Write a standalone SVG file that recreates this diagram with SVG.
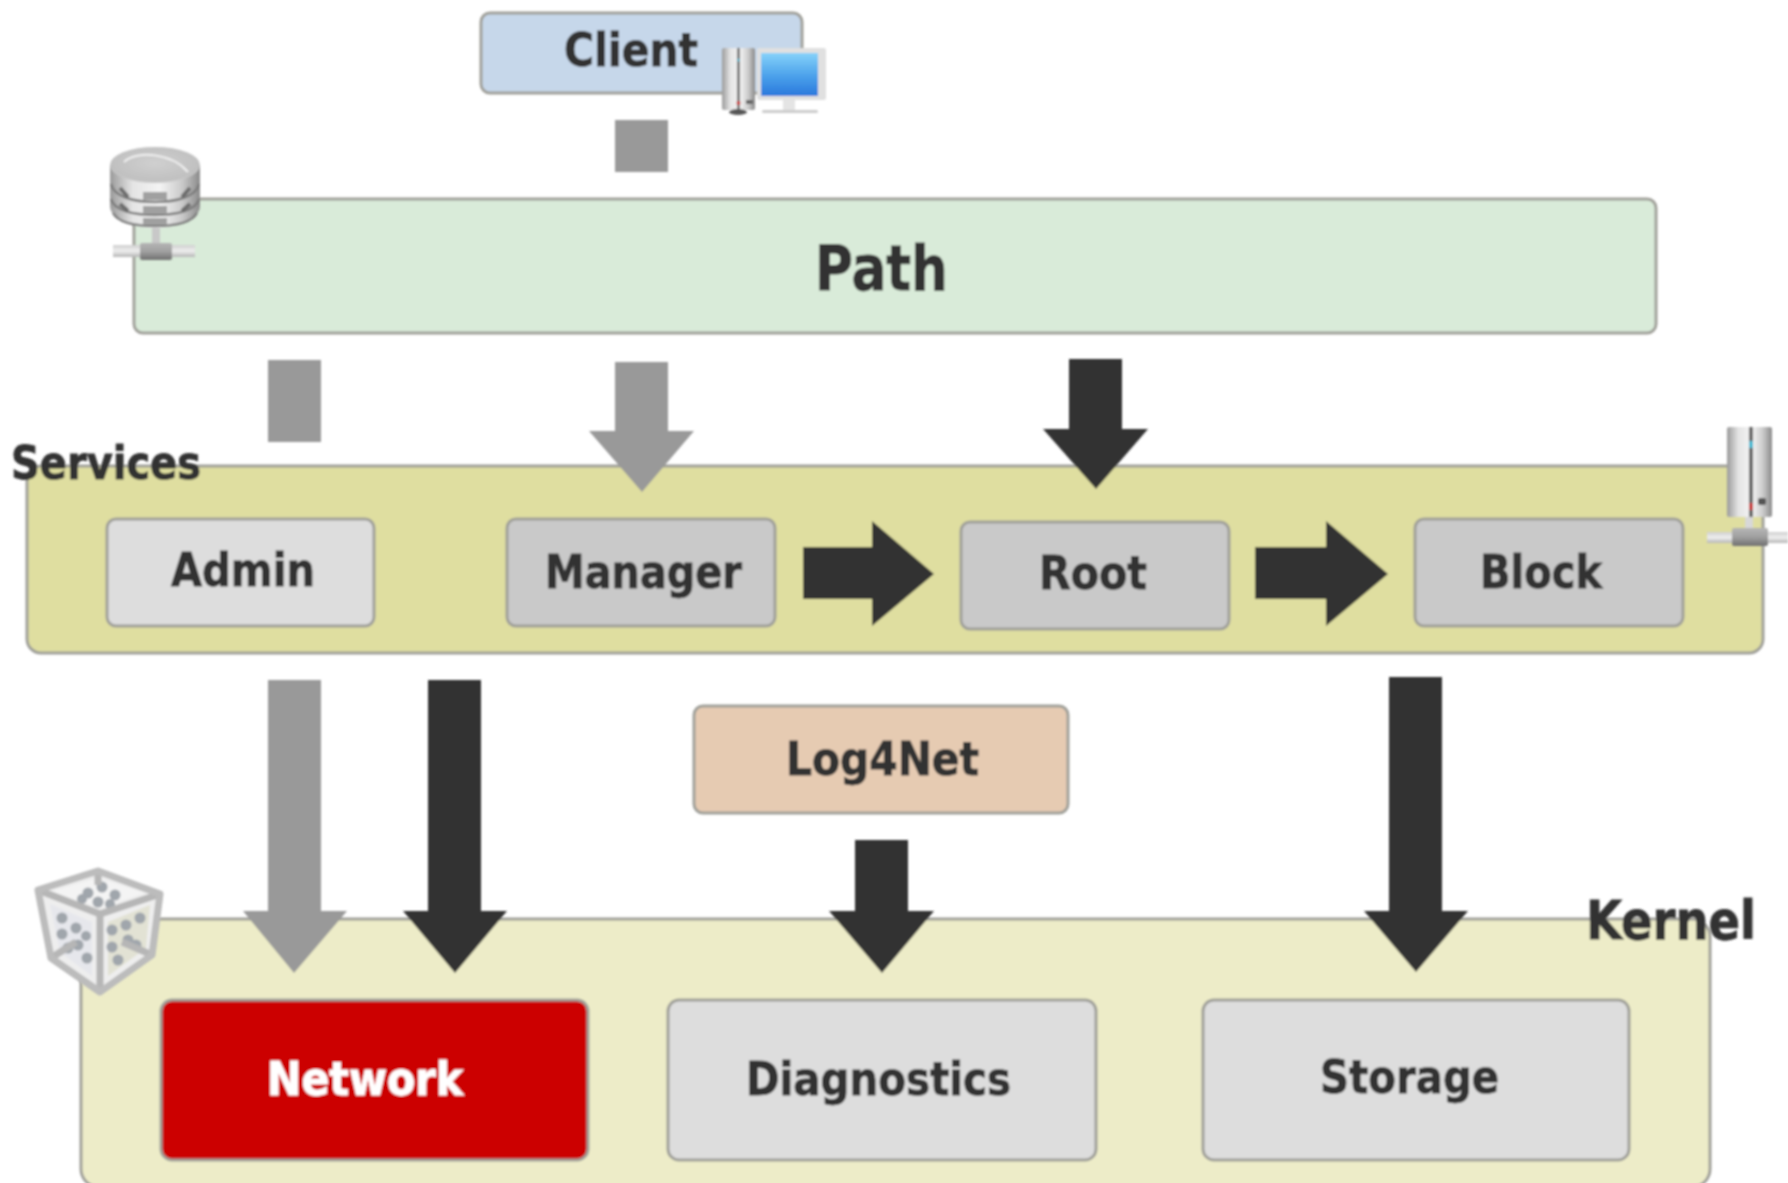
<svg xmlns="http://www.w3.org/2000/svg" width="1788" height="1183" viewBox="0 0 1788 1183">
<style>
.box{stroke:#a0a09a;stroke-width:3}
.t{font-family:"DejaVu Sans","Noto Sans",sans-serif;font-stretch:condensed;font-weight:700;fill:#333;stroke:#333;stroke-width:.8}
.g{fill:#999}.d{fill:#333}
</style>
<defs>
<filter id="soft" x="-2%" y="-2%" width="104%" height="104%"><feGaussianBlur stdDeviation="0.8"/></filter>
<filter id="softer" x="-10%" y="-10%" width="120%" height="120%"><feGaussianBlur stdDeviation="1"/></filter>
<linearGradient id="metal" x1="0" y1="0" x2="1" y2="0"><stop offset="0" stop-color="#9a9a9a"/><stop offset=".25" stop-color="#e4e4e4"/><stop offset=".55" stop-color="#f4f4f4"/><stop offset=".8" stop-color="#cacaca"/><stop offset="1" stop-color="#8a8a8a"/></linearGradient>
<linearGradient id="pipe" x1="0" y1="0" x2="0" y2="1"><stop offset="0" stop-color="#d0d0d0"/><stop offset=".5" stop-color="#eeeeee"/><stop offset="1" stop-color="#b5b5b5"/></linearGradient>
<linearGradient id="coupler" x1="0" y1="0" x2="0" y2="1"><stop offset="0" stop-color="#b5b5b5"/><stop offset=".5" stop-color="#a0a0a0"/><stop offset="1" stop-color="#6f6f6f"/></linearGradient>
<linearGradient id="screen" x1="0" y1="0" x2="0" y2="1"><stop offset="0" stop-color="#86d2fa"/><stop offset=".55" stop-color="#4aa0ea"/><stop offset="1" stop-color="#2a78dc"/></linearGradient>
<radialGradient id="disk" cx=".5" cy=".45" r=".7"><stop offset="0" stop-color="#d0d0d0"/><stop offset=".7" stop-color="#c0c0c0"/><stop offset="1" stop-color="#ececec"/></radialGradient>
</defs>
<g filter="url(#soft)">
<g id="services-panel"><rect class="box" x="27" y="466" width="1736" height="187" rx="14" fill="#dfdea0"/><text class="t" x="11" y="479" font-size="47" textLength="190" lengthAdjust="spacingAndGlyphs">Services</text></g>
<g id="kernel-panel"><rect class="box" x="81" y="919" width="1629" height="268" rx="18" fill="#edecc8"/><text class="t" x="1586" y="939" font-size="54" textLength="170" lengthAdjust="spacingAndGlyphs">Kernel</text></g>
<g id="client"><rect class="box" x="481" y="13" width="321" height="80" rx="9" fill="#c6d7ea"/><text class="t" x="564" y="66" font-size="47" textLength="134" lengthAdjust="spacingAndGlyphs">Client</text></g>
<g id="path"><rect class="box" x="134" y="199" width="1522" height="134" rx="9" fill="#d9ebd9"/><text class="t" x="815" y="290" font-size="62" textLength="133" lengthAdjust="spacingAndGlyphs">Path</text></g>
<g id="admin"><rect class="box" x="107" y="519" width="267" height="107" rx="9" fill="#dddddd"/><text class="t" x="171" y="586" font-size="46" textLength="144" lengthAdjust="spacingAndGlyphs">Admin</text></g>
<g id="manager"><rect class="box" x="507" y="519" width="268" height="107" rx="9" fill="#c9c9c9"/><text class="t" x="545" y="588" font-size="46" textLength="197" lengthAdjust="spacingAndGlyphs">Manager</text></g>
<g id="root"><rect class="box" x="961" y="522" width="268" height="107" rx="9" fill="#c9c9c9"/><text class="t" x="1039" y="589" font-size="46" textLength="108" lengthAdjust="spacingAndGlyphs">Root</text></g>
<g id="block"><rect class="box" x="1415" y="519" width="268" height="107" rx="9" fill="#c9c9c9"/><text class="t" x="1480" y="588" font-size="46" textLength="122" lengthAdjust="spacingAndGlyphs">Block</text></g>
<g id="log4net"><rect class="box" x="694" y="706" width="374" height="107" rx="9" fill="#e6cbb2"/><text class="t" x="786" y="775" font-size="46" textLength="193" lengthAdjust="spacingAndGlyphs">Log4Net</text></g>
<g id="network"><rect class="box" x="161" y="1000" width="427" height="160" rx="11" fill="#cc0000"/><text class="t" style="fill:#fff;stroke:#fff" x="267" y="1095" font-size="46" textLength="196" lengthAdjust="spacingAndGlyphs">Network</text></g>
<g id="diagnostics"><rect class="box" x="668" y="1000" width="428" height="160" rx="11" fill="#dddddd"/><text class="t" x="746" y="1095" font-size="46" textLength="265" lengthAdjust="spacingAndGlyphs">Diagnostics</text></g>
<g id="storage"><rect class="box" x="1203" y="1000" width="426" height="160" rx="11" fill="#dddddd"/><text class="t" x="1320" y="1093" font-size="46" textLength="179" lengthAdjust="spacingAndGlyphs">Storage</text></g>
<g id="connectors">
<rect class="g" x="615" y="120" width="53" height="52"/>
<rect class="g" x="268" y="360" width="53" height="82"/>
<polygon class="g" points="615,362 668,362 668,431 694,431 642,492 589,431 615,431"/>
<polygon class="d" points="1069,359 1122,359 1122,429 1148,429 1096,489 1043,429 1069,429"/>
<polygon class="d" points="803,547 872,547 872,521 934,574 872,626 872,599 803,599"/>
<polygon class="d" points="1255,547 1326,547 1326,521 1388,574 1326,626 1326,599 1255,599"/>
<polygon class="g" points="268,680 321,680 321,911 347,911 294,973 243,911 268,911"/>
<polygon class="d" points="428,680 481,680 481,911 507,911 455,973 403,911 428,911"/>
<polygon class="d" points="855,840 908,840 908,911 934,911 882,973 829,911 855,911"/>
<polygon class="d" points="1389,677 1442,677 1442,911 1468,911 1416,972 1364,911 1389,911"/>
</g>
</g>
<g id="icon-client" filter="url(#softer)">
<rect x="722" y="48" width="33" height="62" rx="2" fill="url(#metal)"/>
<rect x="737" y="48" width="3" height="62" fill="#777"/>
<circle cx="738.500" cy="60" r="1.500" fill="#4cb8d0"/><circle cx="738.500" cy="103" r="2" fill="#c83030"/>
<rect x="746" y="100" width="7" height="4" fill="#666"/>
<ellipse cx="738" cy="112" rx="9" ry="3" fill="#555"/>
<rect x="757" y="48" width="69" height="52" rx="2" fill="#e0e0e0"/>
<rect x="761" y="53" width="57" height="43" fill="url(#screen)"/>
<rect x="783" y="100" width="12" height="10" fill="#e4e4e4"/>
<rect x="762" y="110" width="56" height="3" rx="1.500" fill="#cccccc"/>
</g>
<g id="icon-database" filter="url(#softer)">
<rect x="152" y="226" width="8" height="20" fill="#c8c8c8"/>
<rect x="113" y="245" width="82" height="12" fill="url(#pipe)"/>
<rect x="140" y="243" width="32" height="17" rx="2" fill="url(#coupler)"/>
<path d="M110 165 V206 C110 218 130 228 155 228 C180 228 200 218 200 206 V165 Z" fill="url(#metal)"/>
<path d="M111 184 C114 196 132 202 155 202 C178 202 196 196 199 184 M111 199 C114 210 132 215 155 215 C178 215 196 210 199 199 M113 213 C118 222 134 226 155 226 C176 226 192 222 197 213" fill="none" stroke="#7c7c7c" stroke-width="2.500"/>
<rect x="143" y="192" width="24" height="8" fill="#a0a0a0"/><rect x="143" y="206" width="24" height="8" fill="#a0a0a0"/><rect x="143" y="218" width="24" height="7" fill="#a0a0a0"/>
<path d="M120 188 L128 197 M190 188 L182 197 M120 204 L128 211 M190 204 L182 211" stroke="#6c6c6c" stroke-width="4"/>
<ellipse cx="155" cy="165" rx="45" ry="18" fill="url(#disk)"/>
<path d="M124 162 C137 150 172 153 188 172" fill="none" stroke="#f0f0f0" stroke-width="2"/>
</g>
<g id="icon-server" filter="url(#softer)">
<rect x="1745" y="515" width="8" height="15" fill="#d8d8d8"/>
<rect x="1707" y="532" width="81" height="11" fill="url(#pipe)"/>
<rect x="1732" y="528" width="36" height="18" rx="2" fill="url(#coupler)"/>
<rect x="1727" y="427" width="45" height="90" rx="2" fill="url(#metal)"/>
<rect x="1749" y="427" width="4" height="90" fill="#666"/>
<rect x="1749" y="441" width="4" height="7" fill="#3cb8d0"/><rect x="1749" y="503" width="4" height="7" fill="#c83030"/>
<rect x="1758" y="498" width="8" height="7" rx="2" fill="#555"/>
</g>
<g id="icon-cube" filter="url(#softer)">
<polygon points="98,871 160,894 152,955 100,992 51,958 38,890" fill="#eeeeee"/>
<polygon points="98,878 145,893 100,908 52,891" fill="#f4f4f4"/>
<polygon points="50,904 92,922 92,976 60,952" fill="#e6e7ec"/>
<polygon points="108,922 150,905 146,948 108,976" fill="#e2e2d4"/>
<g fill="#a0a6ac">
<circle cx="88" cy="893" r="5.500"/><circle cx="102" cy="887" r="5.500"/><circle cx="115" cy="895" r="5.500"/><circle cx="98" cy="902" r="5.500"/><circle cx="82" cy="899" r="5"/><circle cx="110" cy="904" r="5"/>
<circle cx="62" cy="918" r="5.500"/><circle cx="76" cy="928" r="5.500"/><circle cx="62" cy="934" r="5.500"/><circle cx="78" cy="945" r="5.500"/><circle cx="87" cy="958" r="5.500"/><circle cx="68" cy="948" r="5.500"/><circle cx="86" cy="936" r="5"/>
<circle cx="112" cy="930" r="5.500"/><circle cx="126" cy="925" r="5.500"/><circle cx="140" cy="918" r="5.500"/><circle cx="112" cy="947" r="5.500"/><circle cx="128" cy="940" r="5.500"/><circle cx="118" cy="960" r="5.500"/><circle cx="136" cy="945" r="5.500"/>
</g>
<path d="M38 890 L100 914 L160 894 M100 914 V992 M98 871 V885 M51 958 L76 942 M152 955 L122 942" fill="none" stroke="#b6b6b6" stroke-width="7"/>
<path d="M38 890 L98 871 L160 894 L152 955 L100 992 L51 958 Z" fill="none" stroke="#bcbcbc" stroke-width="7" stroke-linejoin="round"/>
</g>
</svg>
